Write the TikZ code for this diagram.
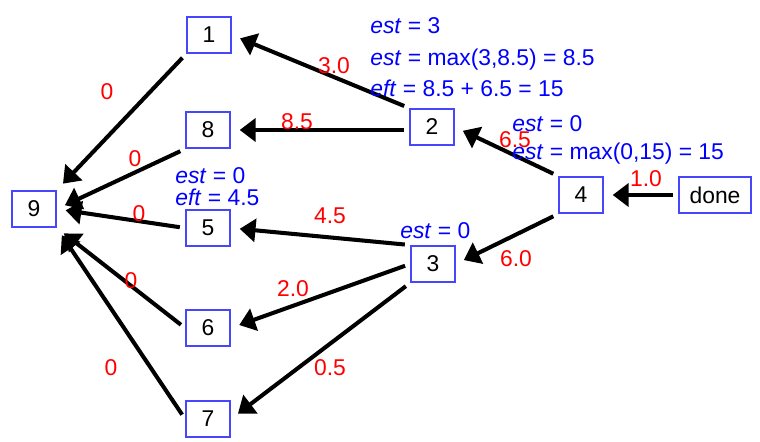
\documentclass[tikz,border=0pt]{standalone}
\usepackage{fontspec}
\setmainfont{Liberation Sans}
\usetikzlibrary{arrows.meta}
\definecolor{boxblue}{RGB}{70,70,250}
\definecolor{noteblue}{RGB}{0,0,255}
\definecolor{costred}{RGB}{255,0,0}
\tikzset{task/.style={draw=boxblue,line width=1.1pt,minimum width=25pt,minimum height=20.5pt,
  inner xsep=6pt,font=\fontsize{13}{15}\selectfont},
 dep/.style={-{Triangle[length=9pt,width=13pt]},line width=2.3pt,shorten <=3pt,shorten >=5pt},
 cost/.style={text=costred,anchor=base,font=\fontsize{13}{15}\selectfont},
 note/.style={text=noteblue,anchor=base west,inner xsep=0pt,font=\fontsize{13}{15}\selectfont}}

\begin{document}
\begin{tikzpicture}[x=0.02cm,y=-0.02cm]
\useasboundingbox (0,0) rectangle (760,442);
\node[task] (t1) at (209,35) {1};
\node[task] (t8) at (208,130) {8};
\node[task] (t9) at (34,209) {9};
\node[task] (t2) at (432,127) {2};
\node[task] (t5) at (208,228) {5};
\node[task] (t3) at (433,264) {3};
\node[task] (t6) at (208,328) {6};
\node[task] (t7) at (208,419) {7};
\node[task] (t4) at (581,195) {4};
\node[task] (done) at (715,195) {done};
\draw[dep] (t1.south west)--(t9.north east);
\draw[dep] (t8.south west)--(t9.east);
\draw[dep] (t5.west)--(t9.east);
\draw[dep] (t6.west)--(t9.south east);
\draw[dep] (t7.west)--(t9.south east);
\draw[dep] (t2.north west)--(t1.east);
\draw[dep] (t2.west |- t8.east)--(t8.east);
\draw[dep] (t3.north west)--(t5.east);
\draw[dep] (t3.west)--(t6.east);
\draw[dep] (t3.south west)--(t7.east);
\draw[dep] (t4.north west)--(t2.east);
\draw[dep] (t4.south west)--(t3.east);
\draw[dep] (done.west)--(t4.east);
\node[cost] (c21) at (334,74) {3.0};
\node[cost] (c19) at (107,100) {0};
\node[cost] (c28) at (297,130) {8.5};
\node[cost] (c89) at (135,167) {0};
\node[cost] (c59) at (139,221) {0};
\node[cost] (c35) at (330,223) {4.5};
\node[cost] (c69) at (131,288) {0};
\node[cost] (c36) at (293,296) {2.0};
\node[cost] (c79) at (111,375) {0};
\node[cost] (c37) at (330,375) {0.5};
\node[cost] (c42) at (515,148) {6.5};
\node[cost] (c43) at (516,266) {6.0};
\node[cost] (c04) at (646,187) {1.0};
\node[note] (n2a) at (370,34) {\textit{est} = 3};
\node[note] (n2b) at (370,66) {\textit{est} = max(3,8.5) = 8.5};
\node[note] (n2c) at (370,97) {\textit{eft} = 8.5 + 6.5 = 15};
\node[note] (n4a) at (512,132) {\textit{est} = 0};
\node[note] (n4b) at (512,160) {\textit{est} = max(0,15) = 15};
\node[note] (n5a) at (175,184) {\textit{est} = 0};
\node[note] (n5b) at (175,206) {\textit{eft} = 4.5};
\node[note] (n3a) at (400,238) {\textit{est} = 0};
\end{tikzpicture}
\end{document}
